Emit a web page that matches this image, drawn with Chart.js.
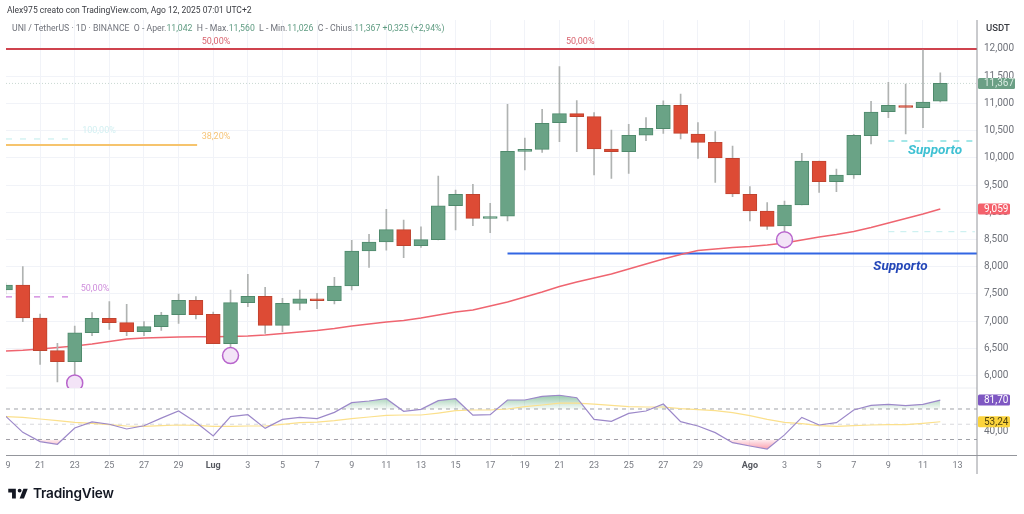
<!DOCTYPE html>
<html lang="it">
<head>
<meta charset="UTF-8">
<title>UNI / TetherUS</title>
<style>
  html, body { margin: 0; background: #fff; overflow: hidden; }
  #wrap { position: relative; width: 1024px; height: 514px; font-family: Roboto, sans-serif; }
  canvas { position: absolute; left: 0; top: 0; }
  .txt { position: absolute; white-space: nowrap; }
  #author { left: 7px; top: 5px; font-size: 8.5px; color: #3a3c42; }
  #legend { left: 12px; top: 23px; font-size: 8.7px; color: #6f727a; }
  #legend b { font-weight: 400; color: #5f9c82; }
  #logo { left: 8px; top: 485px; display: flex; align-items: center; gap: 5px; }
  #logo span { font: 600 13.6px Inter, sans-serif; color: #131722; letter-spacing: -0.2px; }
</style>
</head>
<body>
<div id="wrap">
  <canvas id="myChart" width="1024" height="514"></canvas>
  <div class="txt" id="author">Alex975 creato con TradingView.com, Ago 12, 2025 07:01 UTC+2</div>
  <div class="txt" id="legend">UNI / TetherUS · 1D · BINANCE &nbsp;O - Aper.<b>11,042</b> &nbsp;H - Max.<b>11,560</b> &nbsp;L - Min.<b>11,026</b> &nbsp;C - Chius.<b>11,367 +0,325 (+2,94%)</b></div>
  <div class="txt" id="logo">
    <svg width="20" height="13" viewBox="0 0 36 24"><path fill="#131722" d="M14 3H0v7h7v11h7V3zm15 18h-8l7-18h8l-7 18zM21 3a3.6 3.6 0 1 1 0 7.2A3.6 3.6 0 0 1 21 3z"/></svg>
    <span>TradingView</span>
  </div>
</div>
<script src="https://cdn.jsdelivr.net/npm/chart.js"></script>
<script>
// candele giornaliere, dal 19 giugno (indice 0) al 12 agosto (indice 54)
const openP = [7570,7662,7055,6455,6252,6785,7049,6969,6804,6896,7116,7380,7122,6583,7337,7453,6920,7325,7410,7374,7643,8287,8453,8680,8385,8496,9121,9329,8888,8925,10119,10156,10646,10812,10757,10162,10113,10414,10536,10965,10438,10284,9990,9329,9022,8746,9133,9941,9561,9684,10407,10848,10958,10922,11042];
const closeP = [7662,7055,6455,6252,6785,7049,6969,6804,6896,7110,7380,7116,6583,7337,7453,6920,7325,7410,7374,7643,8287,8453,8680,8385,8496,9115,9329,8888,8918,10119,10156,10634,10812,10757,10162,10113,10414,10542,10965,10450,10284,9996,9335,9022,8740,9133,9941,9561,9684,10413,10842,10965,10928,11026,11367];
const highP = [7700,7999,7129,6589,6908,7153,7355,7306,6988,7159,7496,7447,7165,7570,7858,7619,7417,7570,7508,7803,8483,8594,9053,8857,8729,9666,9409,9513,9164,10983,10364,10891,11676,11051,10830,10511,10616,10738,11045,11173,10646,10480,10217,9470,9175,9206,10082,9941,9794,10431,11038,11387,11357,11982,11560];
const lowP = [7500,6988,6203,5879,5988,6730,6847,6730,6730,6828,6957,7037,6583,6498,7263,6773,6804,7202,7227,7312,7570,7987,8300,8165,8355,8490,8673,8753,8624,8839,9776,10101,10297,10113,9684,9623,9715,10315,10450,10346,9990,9549,9286,8838,8685,8655,9133,9365,9378,9623,10254,10738,10438,10554,11026];

const maLine = [6449,6462,6486,6513,6541,6578,6624,6670,6688,6697,6707,6710,6710,6716,6725,6743,6771,6799,6826,6863,6909,6946,6982,7010,7056,7111,7166,7203,7276,7350,7442,7534,7635,7717,7791,7865,7956,8048,8140,8223,8297,8324,8352,8370,8398,8434,8490,8545,8590,8646,8719,8802,8885,8967,9059];

const rsiLine = [60.8,39.4,27.2,23.7,45,53,50,43.8,48,58,67.4,52.5,34.6,60,62.5,44.6,56.4,59,57.3,65.6,78.3,80.5,83.5,67,69.5,81,83.5,62,62.5,81.8,81.8,86.6,88,84.8,56.4,53.8,64.3,67.4,76.5,53.4,47.7,39,25.8,21.5,17.5,36,59,49,52,68.7,74.8,76,74.4,76,81.7];
const rsiAvg = [59.9,59,56.9,54.7,52.5,51.2,49.4,47.7,47.3,48.1,49,48.6,47.3,47.3,47.7,47.7,49.9,52,52.9,54.7,57.3,59.5,61.7,62.1,62.1,64.7,67.8,68.7,68.7,70,73,75.2,77.8,77.8,76.5,74.8,73,72.6,72.6,70.4,69.1,67.8,65.2,61.2,56.4,52.5,50.8,48.1,47.3,48.1,49,49.4,49.4,51.2,53.24];

const priceTicks = [6000,6500,7000,7500,8000,8500,9000,9500,10000,10500,11000,11500,12000];
const dayTicks = [0.15,2,4,6,8,10,12,14,16,18,20,22,24,26,28,30,32,34,36,38,40,43,45,47,49,51,53,55];
const dayLabels = ['9','21','23','25','27','29','Lug','3','5','7','9','11','13','15','17','19','21','23','25','27','29','Ago','3','5','7','9','11','13'];

// linee disegnate: prezzo e giorni di inizio/fine
const lastClose = 11367;
const fib50 = 12000, fib382 = 10235, fib100 = 10346, fib50Low = 7442;
const supportBlue = 8241, supportCyan = 10309, supportPale = 8642;
const rsiBands = [70, 50, 30];
const rsiPaneTop = 97.5;

const circleDay = [4, 13, 45];
const circlePrice = [5861, 6364, 8495];

const xMin = 0.03, xMax = 56.12;
const green = '#6aa386', greenEdge = '#4f8a6c', red = '#dd4b35', redEdge = '#c0432f';
const gridColor = '#f1f3f8';

const pts = arr => arr.map((v, i) => ({ x: i, y: v }));
const seg = (a, b, y) => [{ x: a, y: y }, { x: b, y: y }];
const isUp = i => closeP[i] >= openP[i];
const isMonth = c => !!c.tick && (c.tick.value === 12 || c.tick.value === 43);

const line = (data, color, width, extra) => Object.assign({
    type: 'line', data: data, borderColor: color, borderWidth: width,
    pointRadius: 0, fill: false, tension: 0, order: 10
}, extra);

const canvas = document.querySelector('#myChart');
const ctx = canvas.getContext('2d');

const greenFill = ctx.createLinearGradient(0, 394, 0, 409);
greenFill.addColorStop(0, 'rgba(70,160,105,0.6)');
greenFill.addColorStop(1, 'rgba(70,160,105,0.04)');
const redFill = ctx.createLinearGradient(0, 439, 0, 449);
redFill.addColorStop(0, 'rgba(245,70,100,0.06)');
redFill.addColorStop(1, 'rgba(245,70,100,0.5)');

// etichette sul grafico e cartellini sull'asse dei prezzi
const chartNotes = [
    ['50,00%', 12.16, 12129, '#d9646f', '400 9px Roboto'],
    ['50,00%', 33.2, 12129, '#d9646f', '400 9px Roboto'],
    ['38,20%', 12.16, 10383, '#f6c477', '400 9px Roboto'],
    ['100,00%', 5.4, 10493, '#d3f0f2', '400 9px Roboto'],
    ['50,00%', 5.17, 7589, '#cf8fdc', '400 9px Roboto'],
    ['Supporto', 53.7, 10125, '#3fc1d3', 'italic 700 13.5px Roboto'],
    ['Supporto', 51.7, 7993, '#2447b8', 'italic 700 13.5px Roboto']
];
const priceTags = [
    ['11,367', 11367, 'y', '#6b9f85', '#d9ebe1', 37],
    ['9,059', 9059, 'y', '#f4616c', '#ffffff', 32],
    ['81,70', 81.7, 'rsi', '#7e57c2', '#ffffff', 32],
    ['53,24', 53.24, 'rsi', '#fbd33c', '#4f4210', 32]
];

const overlay = {
    id: 'overlay',
    beforeDatasetDraw(chart, args) {
        // il cerchio di giugno viene tagliato dal pannello RSI
        if (chart.data.datasets[args.index].cutAtPane) {
            const c = chart.ctx, a = chart.chartArea;
            c.save();
            c.beginPath();
            c.rect(a.left, a.top, a.width, chart.scales.rsi.getPixelForValue(rsiPaneTop) - a.top);
            c.clip();
        }
    },
    afterDatasetDraw(chart, args) {
        if (chart.data.datasets[args.index].cutAtPane) chart.ctx.restore();
    },
    afterDraw(chart) {
        const c = chart.ctx, a = chart.chartArea, sx = chart.scales.x;
        c.save();
        c.strokeStyle = '#94969c';
        c.lineWidth = 1;
        c.beginPath();
        c.moveTo(a.left, a.bottom); c.lineTo(1017, a.bottom);
        c.moveTo(a.right, a.top); c.lineTo(a.right, 474);
        c.stroke();

        c.textBaseline = 'middle';
        c.textAlign = 'center';
        chartNotes.forEach(n => {
            c.font = n[4];
            c.fillStyle = n[3];
            c.fillText(n[0], sx.getPixelForValue(n[1]), chart.scales.y.getPixelForValue(n[2]));
        });

        c.textAlign = 'left';
        c.font = '500 9.5px Roboto';
        c.fillStyle = '#3a3c42';
        c.fillText('USDT', 986, 29);
        c.font = '400 10px Roboto';
        c.fillStyle = '#6f727a';
        c.fillText('40,00', 984, chart.scales.rsi.getPixelForValue(40));

        priceTags.forEach(t => {
            const y = chart.scales[t[2]].getPixelForValue(t[1]);
            c.fillStyle = t[3];
            c.beginPath();
            c.roundRect(a.right + 1, y - 5.5, t[5], 11, 1.5);
            c.fill();
            c.fillStyle = t[4];
            c.fillText(t[0], a.right + 7, y + 0.5);
        });
        c.restore();
    }
};

new Chart(ctx, {
    type: 'bar',
    plugins: [overlay],
    data: {
        datasets: [
            line(seg(xMin, xMax, lastClose), '#c9d9d2', 1, { borderDash: [1, 2] }),
            line(seg(xMin, xMax, fib50), '#cf434e', 2),
            line(seg(xMin, 11.07, fib382), '#f6c46d', 2),
            line(seg(xMin, 4, fib100), '#bfeceb', 1, { borderDash: [6, 8] }),
            line(seg(xMin, 4, fib50Low), '#cb7cdb', 1.2, { borderDash: [6, 8] }),
            line(seg(29, xMax, supportBlue), '#3266e3', 2),
            line(seg(51, 56, supportCyan), '#48d0d2', 1.2, { borderDash: [6, 7] }),
            line(seg(51, 56, supportPale), '#c4eeee', 1, { borderDash: [6, 6] }),

            line(pts(maLine), '#ef6570', 1.5, { order: 6 }),
            { label: 'wick', grouped: false, barThickness: 1, order: 5,
              data: highP.map((h, i) => ({ x: i, y: [lowP[i], h] })),
              backgroundColor: '#b0b3b2' },
            { label: 'body', grouped: false, barThickness: 14, order: 4, borderWidth: 1, borderSkipped: false,
              data: openP.map((o, i) => ({ x: i, y: [o, closeP[i]] })),
              backgroundColor: openP.map((o, i) => isUp(i) ? green : red),
              borderColor: openP.map((o, i) => isUp(i) ? greenEdge : redEdge) },

            line(seg(xMin, xMax, rsiBands[0]), '#a0a2a8', 1, { yAxisID: 'rsi', borderDash: [4, 4] }),
            line(seg(xMin, xMax, rsiBands[1]), '#d8d9dc', 1, { yAxisID: 'rsi', borderDash: [4, 4] }),
            line(seg(xMin, xMax, rsiBands[2]), '#a0a2a8', 1, { yAxisID: 'rsi', borderDash: [4, 4] }),
            line(seg(xMin, xMax, rsiPaneTop), '#eceef2', 1, { yAxisID: 'rsi' }),
            line(pts(rsiLine), 'transparent', 0, { yAxisID: 'rsi', order: 9, fill: { target: { value: rsiBands[0] }, above: greenFill, below: 'transparent' } }),
            line(pts(rsiLine), 'transparent', 0, { yAxisID: 'rsi', order: 9, fill: { target: { value: rsiBands[2] }, above: 'transparent', below: redFill } }),
            line(pts(rsiAvg), '#fbe08c', 1.2, { yAxisID: 'rsi', order: 3 }),
            line(pts(rsiLine), '#9c88c9', 1.2, { yAxisID: 'rsi', order: 2 }),

            { type: 'line', showLine: false, order: 1, cutAtPane: true,
              data: [{ x: circleDay[0], y: circlePrice[0] }],
              pointRadius: 8, pointBackgroundColor: '#f3e4f7', pointBorderColor: '#b865cc', pointBorderWidth: 1.5 },
            { type: 'line', showLine: false, order: 1,
              data: [{ x: circleDay[1], y: circlePrice[1] }, { x: circleDay[2], y: circlePrice[2] }],
              pointRadius: 8, pointBackgroundColor: '#f3e4f7', pointBorderColor: '#b865cc', pointBorderWidth: 1.5 }
        ]
    },
    options: {
        responsive: false,
        animation: false,
        layout: { autoPadding: false, padding: { left: 6, top: 20, right: 0, bottom: 0 } },
        plugins: { legend: { display: false }, tooltip: { enabled: false } },
        scales: {
            x: {
                type: 'linear', offset: false, min: xMin, max: xMax,
                afterBuildTicks: s => { s.ticks = dayTicks.map(v => ({ value: v })); },
                afterFit: s => { s.height = 58.5; s.paddingLeft = 0; s.paddingRight = 0; },
                border: { display: false },
                grid: { offset: false, drawTicks: false, color: c => (c.tick && c.tick.value < 1) ? 'transparent' : gridColor },
                ticks: {
                    autoSkip: false, maxRotation: 0, padding: 5,
                    callback: (v, i) => dayLabels[i],
                    color: c => isMonth(c) ? '#55585f' : '#787b83',
                    font: c => ({ family: 'Roboto', size: 9, weight: isMonth(c) ? '700' : '400' })
                }
            },
            y: {
                position: 'right', min: 4528, max: 12533,
                afterBuildTicks: s => { s.ticks = priceTicks.map(v => ({ value: v })); },
                afterFit: s => { s.width = 47; s.paddingTop = 0; s.paddingBottom = 0; },
                border: { display: false },
                grid: { drawTicks: false, color: gridColor },
                ticks: {
                    padding: 7, color: '#6f727a', font: { family: 'Roboto', size: 10 },
                    callback: v => v.toLocaleString('en-US')
                }
            },
            rsi: { display: false, position: 'right', min: 9, max: 580.2 }
        }
    }
});
</script>
</body>
</html>
